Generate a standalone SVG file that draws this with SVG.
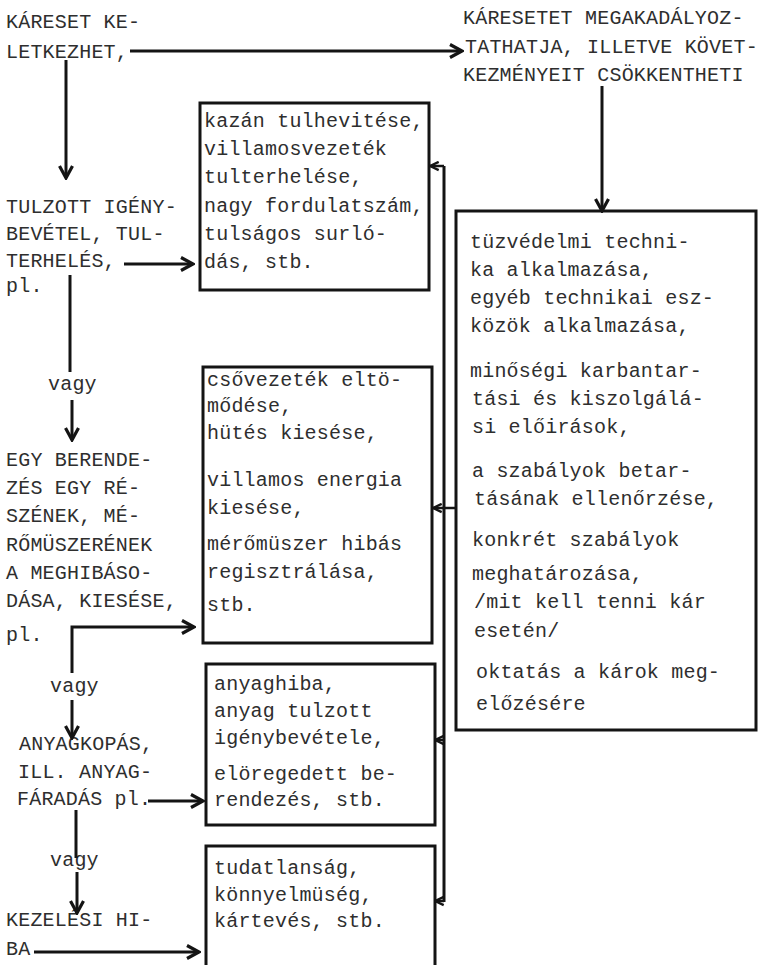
<svg xmlns="http://www.w3.org/2000/svg" width="758" height="965" viewBox="0 0 758 965">
<defs>
<style>
text{font-family:"Liberation Mono","DejaVu Sans Mono",monospace;font-size:20px;letter-spacing:0.2px;fill:#2e2e2e}
.box{fill:none;stroke:#141414;stroke-width:3}
.ln{fill:none;stroke:#141414;stroke-width:3}
.ar{fill:none;stroke:#141414;stroke-width:3;marker-end:url(#ah)}
.ar2{fill:none;stroke:#141414;stroke-width:2.5;marker-end:url(#ahs)}
</style>
<marker id="ah" viewBox="0 0 16 16" refX="14" refY="8" markerWidth="16" markerHeight="16" markerUnits="userSpaceOnUse" orient="auto">
<path d="M2,1.5 L14,8 L2,14.5" fill="none" stroke="#141414" stroke-width="3.2" stroke-linejoin="miter"/>
</marker>
<marker id="ahs" viewBox="0 0 12 12" refX="11" refY="6" markerWidth="11" markerHeight="11" markerUnits="userSpaceOnUse" orient="auto">
<path d="M1.5,1.5 L11,6 L1.5,10.5" fill="none" stroke="#141414" stroke-width="2.6"/>
</marker>
</defs>
<rect width="758" height="965" fill="#ffffff"/>

<g id="start">
<text x="6" y="28">KÁRESET KE-</text>
<text x="6" y="58">LETKEZHET,</text>
</g>

<g id="prevent-title">
<text x="463" y="24">KÁRESETET MEGAKADÁLYOZ-</text>
<text x="465" y="53">TATHATJA, ILLETVE KÖVET-</text>
<text x="463" y="81">KEZMÉNYEIT CSÖKKENTHETI</text>
</g>

<g id="cause-overload">
<text x="6" y="213">TULZOTT IGÉNY-</text>
<text x="6" y="240">BEVÉTEL, TUL-</text>
<text x="6" y="267">TERHELÉS,</text>
<text x="6" y="292">pl.</text>
</g>
<text x="48" y="390">vagy</text>

<g id="cause-failure">
<text x="6" y="466">EGY BERENDE-</text>
<text x="6" y="494">ZÉS EGY RÉ-</text>
<text x="6" y="522">SZÉNEK, MÉ-</text>
<text x="6" y="551">RŐMÜSZERÉNEK</text>
<text x="6" y="579">A MEGHIBÁSO-</text>
<text x="6" y="607">DÁSA, KIESÉSE,</text>
<text x="6" y="641">pl.</text>
</g>
<text x="50" y="692">vagy</text>

<g id="cause-material">
<text x="19" y="750">ANYAGKOPÁS,</text>
<text x="18" y="778">ILL. ANYAG-</text>
<text x="17" y="805">FÁRADÁS pl.</text>
</g>
<text x="50" y="866">vagy</text>

<g id="cause-handling">
<text x="6" y="926">KEZELÉSI HI-</text>
<text x="6" y="955">BA</text>
</g>

<g id="box-overload">
<rect class="box" x="200" y="103" width="229" height="187"/>
<text x="204" y="127">kazán tulhevitése,</text>
<text x="204" y="155">villamosvezeték</text>
<text x="204" y="183">tulterhelése,</text>
<text x="204" y="212">nagy fordulatszám,</text>
<text x="204" y="240">tulságos surló-</text>
<text x="204" y="268">dás, stb.</text>
</g>

<g id="box-failure">
<rect class="box" x="203" y="367" width="229" height="276"/>
<text x="207" y="386">csővezeték eltö-</text>
<text x="207" y="412">mődése,</text>
<text x="207" y="439">hütés kiesése,</text>
<text x="207" y="486">villamos energia</text>
<text x="207" y="514">kiesése,</text>
<text x="207" y="550">mérőmüszer hibás</text>
<text x="207" y="578">regisztrálása,</text>
<text x="207" y="611">stb.</text>
</g>

<g id="box-material">
<rect class="box" x="206" y="664" width="229" height="161"/>
<text x="214" y="690">anyaghiba,</text>
<text x="214" y="717">anyag tulzott</text>
<text x="214" y="744">igénybevétele,</text>
<text x="214" y="780">elöregedett be-</text>
<text x="214" y="806">rendezés, stb.</text>
</g>

<g id="box-handling">
<path class="box" d="M206,965 V846 H435 V965"/>
<text x="214" y="874">tudatlanság,</text>
<text x="214" y="901">könnyelmüség,</text>
<text x="214" y="927">kártevés, stb.</text>
</g>

<g id="box-prevention">
<rect class="box" x="456" y="211" width="300" height="519"/>
<text x="470" y="248">tüzvédelmi techni-</text>
<text x="470" y="276">ka alkalmazása,</text>
<text x="470" y="304">egyéb technikai esz-</text>
<text x="470" y="332">közök alkalmazása,</text>
<text x="470" y="377">minőségi karbantar-</text>
<text x="472" y="405">tási és kiszolgálá-</text>
<text x="472" y="433">si előirások,</text>
<text x="472" y="477">a szabályok betar-</text>
<text x="474" y="505">tásának ellenőrzése,</text>
<text x="472" y="546">konkrét szabályok</text>
<text x="472" y="580">meghatározása,</text>
<text x="474" y="608">/mit kell tenni kár</text>
<text x="474" y="637">esetén/</text>
<text x="476" y="678">oktatás a károk meg-</text>
<text x="476" y="710">előzésére</text>
</g>

<g id="connectors">
<path class="ar" d="M130,51 H462"/>
<path class="ar" d="M66,60 V178"/>
<path class="ar" d="M124,264 H193"/>
<path class="ln" d="M70,275 V372"/>
<path class="ar" d="M72,400 V440"/>
<path class="ar" d="M72,673 V627 H194"/>
<path class="ar" d="M72,700 V738"/>
<path class="ar" d="M148,801 H203"/>
<path class="ln" d="M76,810 V858"/>
<path class="ar" d="M77,872 V913"/>
<path class="ar" d="M34,952 H199"/>
<path class="ar" d="M602,86 V211"/>
<path class="ar2" d="M456,508 H433"/>
<path class="ln" d="M444,902 V166" stroke-width="2.5"/>
<path class="ar2" d="M444,166 H430"/>
<path class="ar2" d="M444,740 H435"/>
<path class="ar2" d="M444,901 H435"/>
</g>
</svg>
